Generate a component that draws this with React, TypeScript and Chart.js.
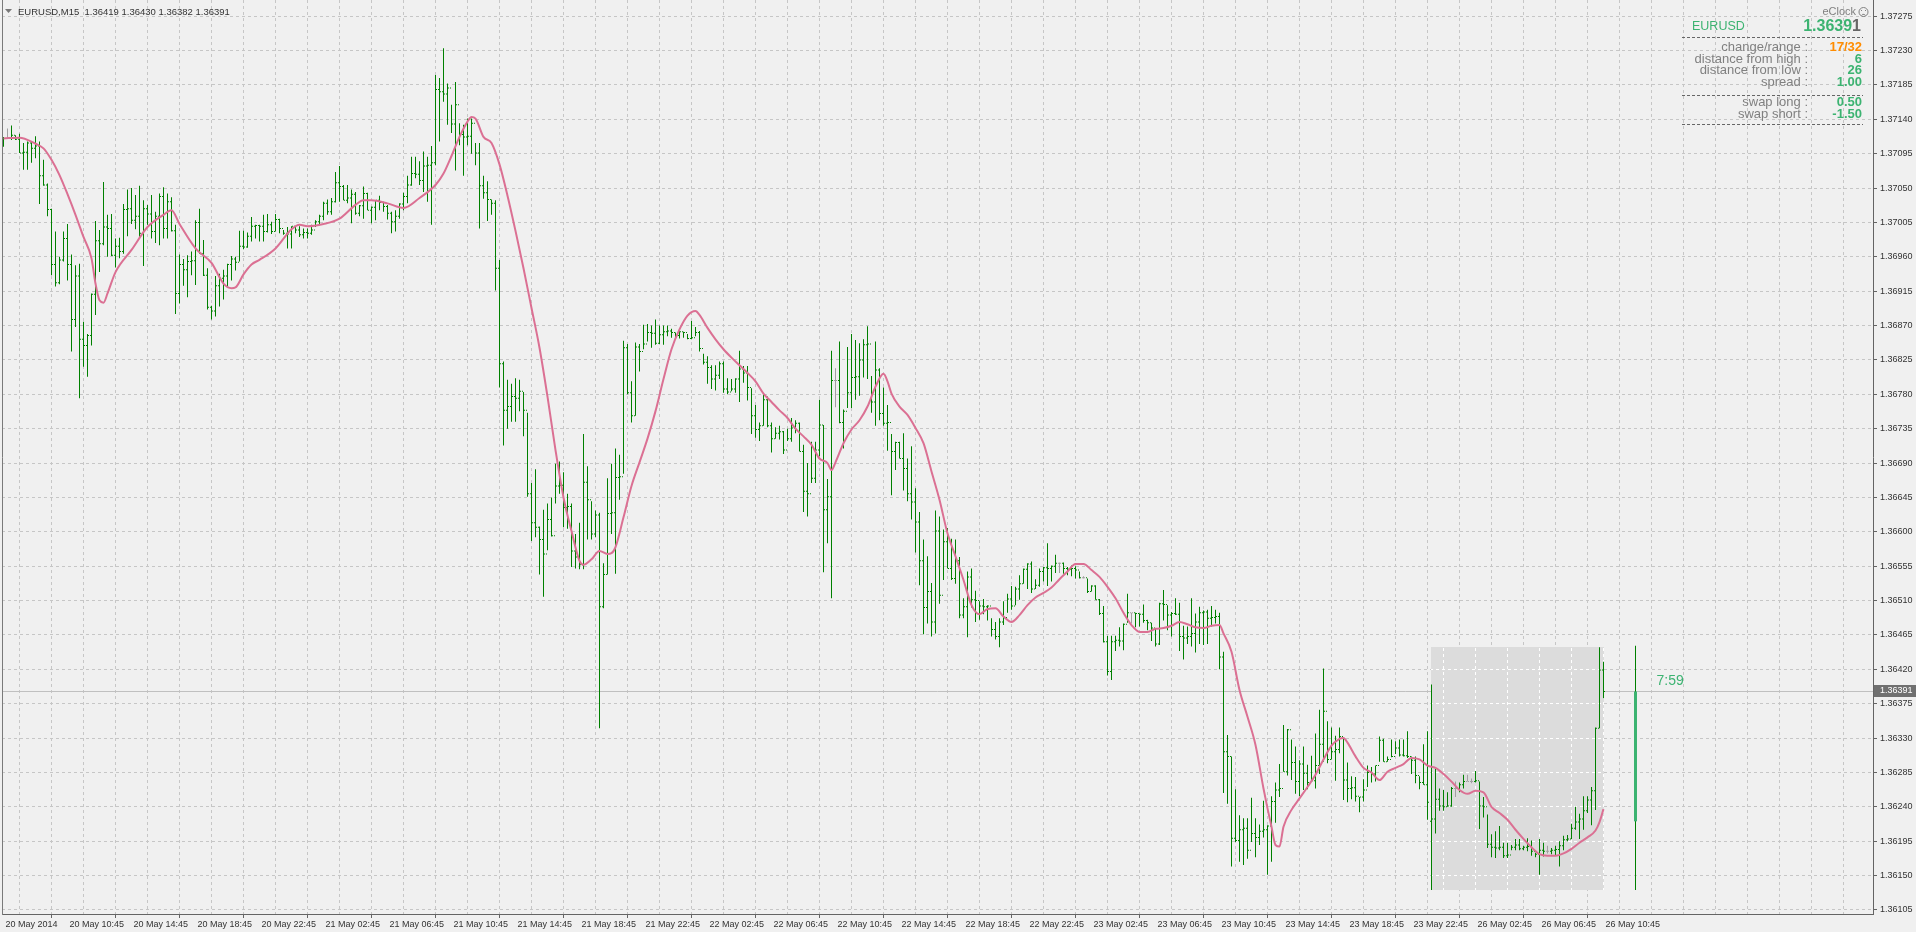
import React, { useEffect, useRef } from 'react';
import { Chart, registerables } from 'chart.js';

Chart.register(...registerables);

// ---------------- data ----------------
const headerText = 'EURUSD,M15  1.36419 1.36430 1.36382 1.36391';

const timeLabels = [
  '20 May 2014', '20 May 10:45', '20 May 14:45', '20 May 18:45', '20 May 22:45',
  '21 May 02:45', '21 May 06:45', '21 May 10:45', '21 May 14:45', '21 May 18:45', '21 May 22:45',
  '22 May 02:45', '22 May 06:45', '22 May 10:45', '22 May 14:45', '22 May 18:45', '22 May 22:45',
  '23 May 02:45', '23 May 06:45', '23 May 10:45', '23 May 14:45', '23 May 18:45', '23 May 22:45',
  '26 May 02:45', '26 May 06:45', '26 May 10:45',
];

const priceTicks = [
  1.36105, 1.36150, 1.36195, 1.36240, 1.36285, 1.36330, 1.36375, 1.36420, 1.36465,
  1.36510, 1.36555, 1.36600, 1.36645, 1.36690, 1.36735, 1.36780, 1.36825, 1.36870,
  1.36915, 1.36960, 1.37005, 1.37050, 1.37095, 1.37140, 1.37185, 1.37230, 1.37275,
];

// M15 bars, index 0 = 20 May 06:45
const opens = [
  1.37110,1.37115,1.37115,1.37119,1.37114,1.37096,1.37097,1.37109,1.37102,1.37105,
  1.37066,1.37054,1.37022,1.36950,1.36926,1.36956,1.36984,1.36950,1.36878,1.36935,
  1.36852,1.36844,1.36857,1.36911,1.36981,1.36977,1.36999,1.36997,1.36962,1.36974,
  1.36967,1.37022,1.37023,1.37008,1.37013,1.36991,1.37023,1.37016,1.36993,1.37013,
  1.37039,1.36997,1.37032,1.36994,1.36912,1.36950,1.36943,1.36954,1.36955,1.37005,
  1.36964,1.36936,1.36894,1.36889,1.36922,1.36932,1.36935,1.36950,1.36957,1.36953,
  1.36974,1.36973,1.36987,1.37000,1.37001,1.37000,1.36993,1.37002,1.36993,1.37009,
  1.36997,1.36991,1.36990,1.37000,1.36995,1.36989,1.36992,1.36991,1.36995,1.37006,
  1.37013,1.37030,1.37019,1.37032,1.37057,1.37052,1.37034,1.37037,1.37042,1.37017,
  1.37027,1.37043,1.37021,1.37025,1.37034,1.37031,1.37026,1.37017,1.37006,1.37013,
  1.37029,1.37039,1.37054,1.37069,1.37068,1.37060,1.37079,1.37080,1.37083,1.37179,
  1.37176,1.37173,1.37181,1.37134,1.37159,1.37120,1.37117,1.37118,1.37135,1.37096,
  1.37053,1.37044,1.37035,1.37030,1.36945,1.36820,1.36759,1.36764,1.36777,1.36775,
  1.36784,1.36759,1.36650,1.36612,1.36606,1.36590,1.36571,1.36616,1.36595,1.36660,
  1.36661,1.36632,1.36633,1.36575,1.36567,1.36557,1.36665,1.36642,1.36597,1.36622,
  1.36502,1.36544,1.36624,1.36625,1.36671,1.36672,1.36841,1.36782,1.36752,1.36842,
  1.36836,1.36846,1.36861,1.36860,1.36847,1.36858,1.36862,1.36863,1.36861,1.36857,
  1.36862,1.36861,1.36853,1.36854,1.36861,1.36840,1.36822,1.36815,1.36800,1.36805,
  1.36820,1.36787,1.36783,1.36787,1.36800,1.36813,1.36808,1.36789,1.36752,1.36734,
  1.36739,1.36773,1.36739,1.36722,1.36729,1.36731,1.36707,1.36722,1.36736,1.36742,
  1.36705,1.36653,1.36650,1.36670,1.36707,1.36740,1.36629,1.36646,1.36798,1.36798,
  1.36743,1.36758,1.36782,1.36802,1.36803,1.36825,1.36845,1.36846,1.36770,1.36812,
  1.36755,1.36742,1.36743,1.36705,1.36717,1.36696,1.36683,1.36650,1.36639,1.36613,
  1.36562,1.36501,1.36522,1.36482,1.36601,1.36517,1.36587,1.36552,1.36539,1.36562,
  1.36491,1.36502,1.36541,1.36511,1.36510,1.36503,1.36502,1.36503,1.36472,1.36463,
  1.36482,1.36488,1.36512,1.36503,1.36525,1.36532,1.36551,1.36558,1.36525,1.36530,
  1.36548,1.36553,1.36552,1.36555,1.36559,1.36559,1.36552,1.36551,1.36552,1.36550,
  1.36540,1.36540,1.36522,1.36529,1.36511,1.36493,1.36456,1.36417,1.36456,1.36458,
  1.36457,1.36479,1.36494,1.36494,1.36493,1.36492,1.36484,1.36481,1.36474,1.36453,
  1.36506,1.36505,1.36491,1.36493,1.36492,1.36463,1.36461,1.36463,1.36467,1.36482,
  1.36494,1.36495,1.36487,1.36488,1.36489,1.36436,1.36312,1.36306,1.36199,1.36196,
  1.36210,1.36212,1.36183,1.36205,1.36200,1.36208,1.36210,1.36215,1.36247,1.36262,
  1.36264,1.36286,1.36341,1.36298,1.36273,1.36296,1.36284,1.36272,1.36274,1.36294,
  1.36322,1.36365,1.36302,1.36312,1.36315,1.36332,1.36275,1.36264,1.36265,1.36254,
  1.36253,1.36262,1.36285,1.36283,1.36294,1.36327,1.36299,1.36302,1.36306,1.36317,
  1.36308,1.36307,1.36306,1.36301,1.36281,1.36272,1.36269,1.36221,1.36224,1.36250,
  1.36241,1.36240,1.36241,1.36264,1.36264,1.36269,1.36273,1.36273,1.36273,1.36274,
  1.36241,1.36240,1.36191,1.36187,1.36186,1.36187,1.36176,1.36177,1.36187,1.36190,
  1.36185,1.36187,1.36188,1.36182,1.36178,1.36183,1.36182,1.36182,1.36183,1.36184,
  1.36189,1.36197,1.36198,1.36212,1.36220,1.36224,1.36235,1.36249,1.36261,1.36343,
  1.36419,
];

const highs = [
  1.37117,1.37128,1.37132,1.37119,1.37121,1.37109,1.37111,1.37111,1.37118,1.37111,
  1.37087,1.37056,1.37023,1.36993,1.36960,1.36993,1.37003,1.36963,1.36949,1.36951,
  1.36875,1.36859,1.36912,1.37007,1.36995,1.37058,1.37015,1.37016,1.36984,1.36985,
  1.37029,1.37048,1.37050,1.37041,1.37053,1.37034,1.37028,1.37041,1.37019,1.37043,
  1.37051,1.37043,1.37038,1.37002,1.36963,1.36957,1.36962,1.36967,1.37008,1.37023,
  1.36982,1.36945,1.36896,1.36935,1.36938,1.36943,1.36951,1.36961,1.36960,1.36994,
  1.36994,1.36992,1.37012,1.37002,1.37002,1.37015,1.37016,1.37006,1.37016,1.37010,
  1.36995,1.36999,1.37000,1.37000,1.37000,1.36997,1.36997,1.37002,1.37008,1.37015,
  1.37032,1.37035,1.37037,1.37071,1.37079,1.37054,1.37054,1.37048,1.37045,1.37028,
  1.37052,1.37044,1.37026,1.37034,1.37040,1.37032,1.37028,1.37019,1.37021,1.37030,
  1.37044,1.37066,1.37091,1.37091,1.37085,1.37098,1.37091,1.37105,1.37198,1.37194,
  1.37233,1.37187,1.37159,1.37189,1.37135,1.37133,1.37141,1.37141,1.37109,1.37109,
  1.37066,1.37059,1.37035,1.37034,1.36956,1.36823,1.36799,1.36794,1.36801,1.36799,
  1.36783,1.36756,1.36664,1.36682,1.36607,1.36629,1.36637,1.36645,1.36689,1.36692,
  1.36678,1.36650,1.36637,1.36597,1.36612,1.36728,1.36686,1.36640,1.36628,1.36625,
  1.36559,1.36670,1.36689,1.36709,1.36701,1.36850,1.36846,1.36797,1.36848,1.36846,
  1.36871,1.36872,1.36870,1.36878,1.36870,1.36870,1.36870,1.36866,1.36861,1.36863,
  1.36862,1.36859,1.36876,1.36868,1.36863,1.36833,1.36830,1.36818,1.36818,1.36823,
  1.36823,1.36801,1.36800,1.36801,1.36837,1.36817,1.36817,1.36788,1.36766,1.36743,
  1.36780,1.36777,1.36743,1.36737,1.36739,1.36732,1.36735,1.36749,1.36746,1.36743,
  1.36714,1.36690,1.36718,1.36718,1.36773,1.36740,1.36669,1.36837,1.36814,1.36849,
  1.36760,1.36842,1.36859,1.36851,1.36847,1.36852,1.36869,1.36804,1.36849,1.36814,
  1.36789,1.36766,1.36728,1.36718,1.36718,1.36729,1.36696,1.36712,1.36657,1.36626,
  1.36590,1.36568,1.36533,1.36628,1.36620,1.36603,1.36605,1.36591,1.36590,1.36567,
  1.36513,1.36548,1.36552,1.36523,1.36509,1.36512,1.36504,1.36487,1.36482,1.36487,
  1.36509,1.36519,1.36529,1.36528,1.36543,1.36552,1.36559,1.36561,1.36538,1.36552,
  1.36554,1.36585,1.36556,1.36570,1.36560,1.36560,1.36554,1.36556,1.36555,1.36548,
  1.36542,1.36539,1.36530,1.36530,1.36512,1.36503,1.36464,1.36464,1.36464,1.36475,
  1.36480,1.36519,1.36494,1.36494,1.36493,1.36505,1.36485,1.36481,1.36474,1.36507,
  1.36524,1.36504,1.36495,1.36513,1.36507,1.36477,1.36476,1.36513,1.36493,1.36502,
  1.36497,1.36498,1.36503,1.36498,1.36494,1.36443,1.36334,1.36306,1.36263,1.36229,
  1.36225,1.36225,1.36252,1.36225,1.36217,1.36248,1.36216,1.36254,1.36272,1.36296,
  1.36347,1.36342,1.36328,1.36319,1.36301,1.36319,1.36295,1.36307,1.36336,1.36367,
  1.36421,1.36352,1.36344,1.36333,1.36344,1.36330,1.36298,1.36280,1.36279,1.36253,
  1.36276,1.36294,1.36292,1.36294,1.36332,1.36329,1.36306,1.36328,1.36326,1.36328,
  1.36328,1.36339,1.36306,1.36306,1.36280,1.36322,1.36339,1.36400,1.36290,1.36264,
  1.36262,1.36259,1.36266,1.36273,1.36272,1.36282,1.36282,1.36277,1.36287,1.36273,
  1.36253,1.36230,1.36204,1.36208,1.36215,1.36193,1.36193,1.36190,1.36198,1.36198,
  1.36189,1.36199,1.36196,1.36180,1.36198,1.36193,1.36189,1.36186,1.36189,1.36195,
  1.36202,1.36203,1.36218,1.36240,1.36231,1.36254,1.36254,1.36266,1.36344,1.36449,
  1.36430,
];

const lows = [
  1.37104,1.37115,1.37113,1.37113,1.37096,1.37074,1.37074,1.37083,1.37089,1.37029,
  1.37053,1.37013,1.36936,1.36921,1.36924,1.36954,1.36929,1.36836,1.36868,1.36775,
  1.36816,1.36803,1.36844,1.36884,1.36940,1.36975,1.36960,1.36961,1.36946,1.36958,
  1.36964,1.36987,1.37003,1.36996,1.36984,1.36948,1.37002,1.36984,1.36978,1.36975,
  1.36984,1.36984,1.36993,1.36885,1.36899,1.36922,1.36907,1.36936,1.36923,1.36964,
  1.36935,1.36891,1.36878,1.36882,1.36895,1.36904,1.36921,1.36929,1.36942,1.36954,
  1.36970,1.36972,1.36980,1.36984,1.36980,1.36980,1.36992,1.36990,1.36993,1.36991,
  1.36989,1.36971,1.36971,1.36991,1.36986,1.36984,1.36984,1.36989,1.36999,1.37002,
  1.37008,1.37015,1.37015,1.37031,1.37032,1.37034,1.37030,1.37004,1.37015,1.37013,
  1.37010,1.37021,1.37004,1.37008,1.37021,1.37019,1.37009,1.36991,1.36993,1.37010,
  1.37021,1.37030,1.37053,1.37063,1.37054,1.37045,1.37032,1.37002,1.37080,1.37111,
  1.37163,1.37133,1.37122,1.37073,1.37106,1.37066,1.37106,1.37095,1.37080,1.36997,
  1.37036,1.37007,1.37015,1.36916,1.36789,1.36713,1.36735,1.36744,1.36744,1.36758,
  1.36725,1.36646,1.36588,1.36593,1.36544,1.36515,1.36576,1.36594,1.36637,1.36650,
  1.36606,1.36604,1.36554,1.36552,1.36551,1.36551,1.36590,1.36590,1.36593,1.36343,
  1.36500,1.36544,1.36597,1.36545,1.36642,1.36676,1.36780,1.36743,1.36752,1.36810,
  1.36839,1.36849,1.36841,1.36845,1.36846,1.36845,1.36856,1.36854,1.36852,1.36853,
  1.36854,1.36852,1.36852,1.36856,1.36836,1.36819,1.36794,1.36787,1.36785,1.36800,
  1.36782,1.36780,1.36784,1.36782,1.36770,1.36795,1.36772,1.36728,1.36723,1.36719,
  1.36739,1.36737,1.36704,1.36722,1.36721,1.36702,1.36719,1.36718,1.36729,1.36705,
  1.36626,1.36620,1.36664,1.36664,1.36699,1.36547,1.36585,1.36513,1.36763,1.36742,
  1.36709,1.36762,1.36762,1.36773,1.36778,1.36802,1.36800,1.36756,1.36739,1.36746,
  1.36739,1.36706,1.36648,1.36681,1.36696,1.36654,1.36640,1.36616,1.36573,1.36530,
  1.36466,1.36480,1.36463,1.36467,1.36506,1.36537,1.36552,1.36537,1.36532,1.36487,
  1.36487,1.36462,1.36501,1.36482,1.36485,1.36492,1.36484,1.36463,1.36459,1.36449,
  1.36478,1.36494,1.36498,1.36504,1.36511,1.36532,1.36525,1.36520,1.36525,1.36528,
  1.36535,1.36529,1.36535,1.36546,1.36546,1.36545,1.36543,1.36542,1.36539,1.36539,
  1.36539,1.36520,1.36522,1.36511,1.36491,1.36455,1.36412,1.36406,1.36444,1.36450,
  1.36445,1.36481,1.36480,1.36475,1.36476,1.36481,1.36471,1.36457,1.36450,1.36452,
  1.36484,1.36471,1.36463,1.36491,1.36444,1.36433,1.36453,1.36450,1.36442,1.36453,
  1.36452,1.36453,1.36476,1.36480,1.36420,1.36258,1.36244,1.36162,1.36194,1.36168,
  1.36164,1.36172,1.36194,1.36174,1.36190,1.36200,1.36151,1.36168,1.36219,1.36253,
  1.36286,1.36281,1.36275,1.36257,1.36254,1.36262,1.36263,1.36273,1.36264,1.36283,
  1.36299,1.36297,1.36302,1.36274,1.36310,1.36249,1.36246,1.36250,1.36247,1.36233,
  1.36247,1.36266,1.36272,1.36273,1.36299,1.36299,1.36299,1.36305,1.36309,1.36306,
  1.36306,1.36304,1.36283,1.36271,1.36263,1.36269,1.36223,1.36131,1.36205,1.36235,
  1.36235,1.36240,1.36240,1.36253,1.36259,1.36264,1.36273,1.36271,1.36272,1.36211,
  1.36226,1.36186,1.36174,1.36173,1.36183,1.36173,1.36173,1.36183,1.36183,1.36183,
  1.36183,1.36182,1.36176,1.36174,1.36151,1.36175,1.36179,1.36178,1.36177,1.36162,
  1.36183,1.36195,1.36198,1.36210,1.36198,1.36210,1.36232,1.36216,1.36236,1.36343,
  1.36382,
];

const closes = [
  1.37115,1.37115,1.37119,1.37114,1.37096,1.37097,1.37109,1.37102,1.37105,1.37066,
  1.37054,1.37022,1.36950,1.36926,1.36956,1.36984,1.36950,1.36878,1.36935,1.36852,
  1.36844,1.36857,1.36911,1.36981,1.36977,1.36999,1.36997,1.36962,1.36974,1.36967,
  1.37022,1.37023,1.37008,1.37013,1.36991,1.37023,1.37016,1.36993,1.37013,1.37039,
  1.36997,1.37032,1.36994,1.36912,1.36950,1.36943,1.36954,1.36955,1.37005,1.36964,
  1.36936,1.36894,1.36889,1.36922,1.36932,1.36935,1.36950,1.36957,1.36953,1.36974,
  1.36973,1.36987,1.37000,1.37001,1.37000,1.36993,1.37002,1.36993,1.37009,1.36997,
  1.36991,1.36990,1.37000,1.36995,1.36989,1.36992,1.36991,1.36995,1.37006,1.37013,
  1.37030,1.37019,1.37032,1.37057,1.37052,1.37034,1.37037,1.37042,1.37017,1.37027,
  1.37043,1.37021,1.37025,1.37034,1.37031,1.37026,1.37017,1.37006,1.37013,1.37029,
  1.37039,1.37054,1.37069,1.37068,1.37060,1.37079,1.37080,1.37083,1.37179,1.37176,
  1.37173,1.37181,1.37134,1.37159,1.37120,1.37117,1.37118,1.37135,1.37096,1.37053,
  1.37044,1.37035,1.37030,1.36945,1.36820,1.36759,1.36764,1.36777,1.36775,1.36784,
  1.36759,1.36650,1.36612,1.36606,1.36590,1.36571,1.36616,1.36595,1.36660,1.36661,
  1.36632,1.36633,1.36575,1.36567,1.36557,1.36665,1.36642,1.36597,1.36622,1.36502,
  1.36544,1.36624,1.36625,1.36671,1.36672,1.36841,1.36782,1.36752,1.36842,1.36836,
  1.36846,1.36861,1.36860,1.36847,1.36858,1.36862,1.36863,1.36861,1.36857,1.36862,
  1.36861,1.36853,1.36854,1.36861,1.36840,1.36822,1.36815,1.36800,1.36805,1.36820,
  1.36787,1.36783,1.36787,1.36800,1.36813,1.36808,1.36789,1.36752,1.36734,1.36739,
  1.36773,1.36739,1.36722,1.36729,1.36731,1.36707,1.36722,1.36736,1.36742,1.36705,
  1.36653,1.36650,1.36670,1.36707,1.36740,1.36629,1.36646,1.36798,1.36798,1.36743,
  1.36758,1.36782,1.36802,1.36803,1.36825,1.36845,1.36846,1.36770,1.36812,1.36755,
  1.36742,1.36743,1.36705,1.36717,1.36696,1.36683,1.36650,1.36639,1.36613,1.36562,
  1.36501,1.36522,1.36482,1.36601,1.36517,1.36587,1.36552,1.36539,1.36562,1.36491,
  1.36502,1.36541,1.36511,1.36510,1.36503,1.36502,1.36503,1.36472,1.36463,1.36482,
  1.36488,1.36512,1.36503,1.36525,1.36532,1.36551,1.36558,1.36525,1.36530,1.36548,
  1.36553,1.36552,1.36555,1.36559,1.36559,1.36552,1.36551,1.36552,1.36550,1.36540,
  1.36540,1.36522,1.36529,1.36511,1.36493,1.36456,1.36417,1.36456,1.36458,1.36457,
  1.36479,1.36494,1.36494,1.36493,1.36492,1.36484,1.36481,1.36474,1.36453,1.36506,
  1.36505,1.36491,1.36493,1.36492,1.36463,1.36461,1.36463,1.36467,1.36482,1.36494,
  1.36495,1.36487,1.36488,1.36489,1.36436,1.36312,1.36306,1.36199,1.36196,1.36210,
  1.36212,1.36183,1.36205,1.36200,1.36208,1.36210,1.36215,1.36247,1.36262,1.36264,
  1.36286,1.36341,1.36298,1.36273,1.36296,1.36284,1.36272,1.36274,1.36294,1.36322,
  1.36365,1.36302,1.36312,1.36315,1.36332,1.36275,1.36264,1.36265,1.36254,1.36253,
  1.36262,1.36285,1.36283,1.36294,1.36327,1.36299,1.36302,1.36306,1.36317,1.36308,
  1.36307,1.36306,1.36301,1.36281,1.36272,1.36269,1.36246,1.36224,1.36250,1.36241,
  1.36240,1.36241,1.36264,1.36264,1.36269,1.36273,1.36273,1.36273,1.36274,1.36241,
  1.36240,1.36191,1.36187,1.36186,1.36187,1.36176,1.36177,1.36187,1.36190,1.36185,
  1.36187,1.36188,1.36182,1.36178,1.36183,1.36182,1.36182,1.36183,1.36184,1.36189,
  1.36197,1.36198,1.36212,1.36220,1.36224,1.36235,1.36249,1.36261,1.36343,1.36419,
  1.36391,
];

// moving average (pink line), read at these bar indexes
const maBars = [
  0,4,8,10,12,14,16,18,20,22,23,24,25,26,28,32,36,40,42,44,48,52,55,57,58,60,62,64,68,72,74,76,80,84,88,90,92,96,
  100,104,108,110,112,114,116,117,118,120,122,124,126,128,130,132,134,136,138,140,142,144,145,147,149,151,152,153,
  155,157,159,161,163,165,167,169,171,173,174,176,178,180,182,184,186,188,190,192,194,196,198,200,202,204,206,207,
  208,210,212,214,216,218,220,221,222,224,226,228,230,232,234,236,238,240,242,244,246,248,250,252,254,256,258,260,
  262,264,266,268,270,272,274,276,278,280,282,284,286,288,290,292,294,296,298,300,302,304,305,307,309,311,313,315,
  316,317,318,319,320,322,324,326,328,330,332,334,335,336,338,340,342,344,346,348,350,352,354,356,358,360,362,364,
  366,368,370,372,374,376,378,380,382,384,386,388,390,392,394,396,398,399,400,
];
const maValues = [
  1.37115,1.37116,1.37108,1.37102,1.37087,1.37067,1.37042,1.37015,1.36986,1.36958,1.36925,1.36903,1.36900,1.36912,
  1.36940,1.36969,1.36999,1.37015,1.37021,1.37003,1.36971,1.36952,1.36925,1.36919,1.36920,1.36937,1.36950,1.36956,
  1.36971,1.36996,1.37002,1.37000,1.37003,1.37010,1.37028,1.37034,1.37034,1.37030,
  1.37024,1.37037,1.37054,1.37069,1.37092,1.37117,1.37137,1.37143,1.37141,1.37117,1.37109,1.37081,1.37040,1.36994,
  1.36945,1.36893,1.36841,1.36777,1.36707,1.36645,1.36601,1.36562,1.36557,1.36564,1.36575,1.36571,1.36572,1.36580,
  1.36619,1.36660,1.36691,1.36722,1.36758,1.36800,1.36839,1.36865,1.36883,1.36889,1.36884,1.36867,1.36852,1.36839,
  1.36828,1.36818,1.36808,1.36797,1.36781,1.36770,1.36759,1.36749,1.36735,1.36725,1.36714,1.36696,1.36690,1.36681,
  1.36691,1.36716,1.36734,1.36746,1.36764,1.36790,1.36807,1.36797,1.36781,1.36764,1.36753,1.36736,1.36716,1.36679,
  1.36642,1.36598,1.36568,1.36537,1.36504,1.36492,1.36499,1.36500,1.36489,1.36482,1.36491,1.36504,1.36514,1.36520,
  1.36527,1.36538,1.36548,1.36558,1.36558,1.36550,1.36541,1.36528,1.36513,1.36494,1.36478,1.36469,1.36469,1.36473,
  1.36474,1.36477,1.36482,1.36479,1.36475,1.36474,1.36477,1.36478,1.36467,1.36443,1.36393,1.36358,1.36321,1.36264,
  1.36238,1.36214,1.36190,1.36188,1.36214,1.36236,1.36251,1.36266,1.36282,1.36302,1.36320,1.36329,1.36330,1.36324,
  1.36306,1.36291,1.36285,1.36275,1.36286,1.36291,1.36296,1.36304,1.36302,1.36294,1.36291,1.36283,1.36273,1.36262,
  1.36257,1.36261,1.36259,1.36240,1.36232,1.36223,1.36210,1.36198,1.36187,1.36178,1.36176,1.36176,1.36179,1.36185,
  1.36193,1.36200,1.36209,1.36220,1.36237,
];

// today's (26 May) daily candle: open, high, low, close
const dayOHLC = [1.36221, 1.36451, 1.36131, 1.36391];
const dayFirstBar = 357;
const dayCandleGapBars = 8;
const lastPrice = 1.36391;
const countdownText = '7:59';

const panelSymbol = 'EURUSD';
const panelPriceHead = '1.3639';
const panelPriceTail = '1';
const panelLabels = ['change/range :', 'distance from high :', 'distance from low :', 'spread :', 'swap long :', 'swap short :'];
const panelValues = ['17/32', '6', '26', '1.00', '0.50', '-1.50'];

// ---------------- layout / style ----------------
const W = 1916;
const H = 932;
const PLOT_LEFT = 2;
const AXIS_W = 43;
const AXIS_H = 18;
const PLOT_H = H - AXIS_H;
const X_MIN = -0.375;
const X_MAX = X_MIN + (W - AXIS_W - PLOT_LEFT) / 4;
const Y_MIN = 1.360997;
const Y_MAX = 1.372962;

const FONT = "'Liberation Sans', Arial, sans-serif";
const BG = '#f0f0f0';
const GRID = '#c6c6c6';
const BAR = '#008000';
const DOJI = '#a0a0a0';
const MA = '#db7093';
const BOX = '#dcdcdc';
const AXIS = '#646464';
const TXT = '#333333';
const GREEN = '#3cb371';
const ORANGE = '#ff8c00';
const GREYTXT = '#808080';

const alignPx = (p: number) => Math.round(p - 0.5) + 0.5;

const mt4Plugin: any = {
  id: 'mt4Decor',
  beforeDraw(chart: any) {
    const { ctx } = chart;
    ctx.save();
    ctx.fillStyle = BG;
    ctx.fillRect(0, 0, chart.width, chart.height);
    ctx.restore();
  },
  beforeDatasetsDraw(chart: any) {
    const { ctx, chartArea: a } = chart;
    const xs = chart.scales.x;
    const ys = chart.scales.y;
    ctx.save();
    ctx.beginPath();
    ctx.rect(a.left, a.top, a.right - a.left, a.bottom - a.top);
    ctx.clip();
    // bid line
    const py = alignPx(ys.getPixelForValue(lastPrice));
    ctx.strokeStyle = '#c0c0c0';
    ctx.lineWidth = 1;
    ctx.beginPath();
    ctx.moveTo(a.left, py);
    ctx.lineTo(a.right, py);
    ctx.stroke();
    // today's range box
    let hi = -Infinity;
    let lo = Infinity;
    for (let i = dayFirstBar; i < highs.length; i++) {
      if (highs[i] > hi) hi = highs[i];
      if (lows[i] < lo) lo = lows[i];
    }
    const bx0 = Math.round(xs.getPixelForValue(dayFirstBar) - 0.5);
    const bx1 = Math.round(xs.getPixelForValue(highs.length - 1) + 0.5);
    const by0 = Math.round(ys.getPixelForValue(hi));
    const by1 = Math.round(ys.getPixelForValue(lo));
    ctx.fillStyle = BOX;
    ctx.fillRect(bx0, by0, bx1 - bx0, by1 - by0);
    ctx.beginPath();
    ctx.rect(bx0, by0, bx1 - bx0, by1 - by0);
    ctx.clip();
    ctx.strokeStyle = '#ffffff';
    ctx.setLineDash([3, 3]);
    for (const t of ys.ticks) {
      const yy = alignPx(ys.getPixelForValue(t.value));
      ctx.beginPath();
      ctx.moveTo(a.left, yy);
      ctx.lineTo(a.right, yy);
      ctx.stroke();
    }
    for (const t of xs.ticks) {
      const xx = alignPx(xs.getPixelForValue(t.value));
      ctx.beginPath();
      ctx.moveTo(xx, a.top);
      ctx.lineTo(xx, a.bottom);
      ctx.stroke();
    }
    ctx.restore();
  },
  afterDraw(chart: any) {
    const { ctx, chartArea: a } = chart;
    const ys = chart.scales.y;
    const xs = chart.scales.x;
    ctx.save();
    // left frame
    ctx.strokeStyle = '#7a7a7a';
    ctx.lineWidth = 1;
    ctx.beginPath();
    ctx.moveTo(a.left + 0.5, 0);
    ctx.lineTo(a.left + 0.5, a.bottom + 1);
    ctx.stroke();

    // header
    ctx.fillStyle = '#777';
    ctx.beginPath();
    ctx.moveTo(5, 9);
    ctx.lineTo(12, 9);
    ctx.lineTo(8.5, 13);
    ctx.closePath();
    ctx.fill();
    ctx.font = `9.5px ${FONT}`;
    ctx.fillStyle = TXT;
    ctx.textBaseline = 'middle';
    ctx.textAlign = 'left';
    ctx.fillText(headerText, 18, 12);

    // current price label on the axis
    const py = Math.round(ys.getPixelForValue(lastPrice));
    ctx.fillStyle = '#707070';
    ctx.fillRect(a.right + 1, py - 6, W - a.right - 1, 12);
    ctx.fillStyle = '#ffffff';
    ctx.font = `9px ${FONT}`;
    ctx.fillText(lastPrice.toFixed(5), a.right + 7, py);

    // countdown next to the daily candle
    const cx = xs.getPixelForValue(highs.length - 1 + dayCandleGapBars);
    ctx.font = `14px ${FONT}`;
    ctx.fillStyle = GREEN;
    ctx.fillText(countdownText, cx + 21, py - 10);

    // info panel
    ctx.textAlign = 'right';
    ctx.font = `11px ${FONT}`;
    ctx.fillStyle = GREYTXT;
    ctx.fillText('eClock', 1856, 12);
    ctx.strokeStyle = GREYTXT;
    ctx.lineWidth = 1;
    ctx.beginPath();
    ctx.arc(1863.5, 12, 4.5, 0, Math.PI * 2);
    ctx.stroke();
    ctx.fillRect(1861, 10, 1, 1);
    ctx.fillRect(1865, 10, 1, 1);
    ctx.beginPath();
    ctx.arc(1863.5, 16.5, 2.2, Math.PI * 1.15, Math.PI * 1.85);
    ctx.stroke();

    ctx.textAlign = 'left';
    ctx.font = `12.5px ${FONT}`;
    ctx.fillStyle = GREEN;
    ctx.fillText(panelSymbol, 1692, 27);

    ctx.textAlign = 'right';
    ctx.font = `bold 16px ${FONT}`;
    const tailW = ctx.measureText(panelPriceTail).width;
    ctx.fillStyle = '#666';
    ctx.fillText(panelPriceTail, 1861, 27);
    ctx.fillStyle = GREEN;
    ctx.fillText(panelPriceHead, 1861 - tailW, 27);

    ctx.strokeStyle = '#666';
    ctx.setLineDash([3, 2]);
    for (const ly of [37.5, 95.5, 124.5]) {
      ctx.beginPath();
      ctx.moveTo(1682, ly);
      ctx.lineTo(1863, ly);
      ctx.stroke();
    }
    ctx.setLineDash([]);

    const rowY = [47.5, 59, 70.5, 82, 102, 114];
    panelLabels.forEach((lab, k) => {
      ctx.font = `13px ${FONT}`;
      ctx.fillStyle = GREYTXT;
      ctx.fillText(lab, 1808, rowY[k]);
      ctx.font = `bold 13px ${FONT}`;
      ctx.fillStyle = k === 0 ? ORANGE : GREEN;
      ctx.fillText(panelValues[k], 1862, rowY[k]);
    });
    ctx.restore();
  },
};

export default function App() {
  const ref = useRef<HTMLCanvasElement | null>(null);

  useEffect(() => {
    const canvas = ref.current;
    if (!canvas) return;
    const halfTick = (Y_MAX - Y_MIN) / PLOT_H / 2;
    const barColors = closes.map((c, i) => (c === opens[i] ? DOJI : BAR));
    const candleX = highs.length - 1 + dayCandleGapBars;
    const barCommon = {
      type: 'bar',
      barThickness: 1,
      grouped: false,
      borderWidth: 0,
      inflateAmount: 0,
      borderSkipped: false,
    };

    const chart = new Chart(canvas, {
      type: 'bar',
      data: {
        datasets: [
          {
            type: 'line',
            label: 'MA',
            data: maBars.map((b, k) => ({ x: b, y: maValues[k] })),
            borderColor: MA,
            borderWidth: 2,
            pointRadius: 0,
            cubicInterpolationMode: 'monotone',
            order: 0,
          },
          {
            ...barCommon,
            label: 'High-Low',
            data: highs.map((h, i) => ({ x: i, y: [lows[i], h] })),
            backgroundColor: barColors,
            order: 3,
          },
          {
            ...barCommon,
            label: 'Open',
            data: opens.map((o, i) => ({ x: i - 0.25, y: [o - halfTick, o + halfTick] })),
            backgroundColor: barColors,
            order: 2,
          },
          {
            ...barCommon,
            label: 'Close',
            data: closes.map((c, i) => ({ x: i + 0.25, y: [c - halfTick, c + halfTick] })),
            backgroundColor: barColors,
            order: 2,
          },
          {
            ...barCommon,
            label: 'Day range',
            data: [{ x: candleX, y: [dayOHLC[2], dayOHLC[1]] }],
            backgroundColor: BAR,
            order: 2,
          },
          {
            ...barCommon,
            label: 'Day body',
            barThickness: 3,
            data: [{ x: candleX, y: [dayOHLC[0], dayOHLC[3]] }],
            backgroundColor: GREEN,
            order: 1,
          },
        ] as any,
      },
      options: {
        animation: false,
        responsive: false,
        maintainAspectRatio: false,
        devicePixelRatio: 1,
        events: [],
        layout: { padding: { left: PLOT_LEFT, right: 0, top: 0, bottom: 0 } },
        plugins: { legend: { display: false }, tooltip: { enabled: false }, title: { display: false } },
        scales: {
          x: {
            type: 'linear',
            min: X_MIN,
            max: X_MAX,
            offset: false,
            afterBuildTicks: (s: any) => {
              const t = [];
              for (let v = 0; v <= X_MAX; v += 8) t.push({ value: v });
              s.ticks = t;
            },
            afterFit: (s: any) => {
              s.height = AXIS_H;
              s.paddingLeft = 0;
              s.paddingRight = 0;
            },
            ticks: {
              autoSkip: false,
              maxRotation: 0,
              minRotation: 0,
              align: 'start',
              labelOffset: 2,
              padding: 1,
              color: TXT,
              font: { family: FONT, size: 9 },
              callback: (v: any) => {
                const n = Number(v);
                return n % 16 === 0 && n / 16 < timeLabels.length ? timeLabels[n / 16] : '';
              },
            },
            grid: {
              color: GRID,
              lineWidth: 1,
              drawTicks: true,
              tickLength: 4,
              tickColor: (c: any) =>
                c.tick && c.tick.value % 16 === 0 && c.tick.value / 16 < timeLabels.length ? AXIS : 'rgba(0,0,0,0)',
            },
            border: { color: AXIS, width: 1, dash: [3, 3] },
          },
          y: {
            type: 'linear',
            position: 'right',
            min: Y_MIN,
            max: Y_MAX,
            afterBuildTicks: (s: any) => {
              s.ticks = priceTicks.map((v) => ({ value: v }));
            },
            afterFit: (s: any) => {
              s.width = AXIS_W;
              s.paddingTop = 0;
              s.paddingBottom = 0;
            },
            ticks: {
              autoSkip: false,
              padding: 3,
              color: TXT,
              font: { family: FONT, size: 9 },
              callback: (v: any) => Number(v).toFixed(5),
            },
            grid: {
              color: GRID,
              lineWidth: 1,
              drawTicks: true,
              tickLength: 4,
              tickColor: AXIS,
            },
            border: { color: AXIS, width: 1, dash: [3, 3] },
          },
        },
      } as any,
      plugins: [mt4Plugin],
    } as any);

    return () => chart.destroy();
  }, []);

  return (
    <div style={{ position: 'fixed', left: 0, top: 0, width: W, height: H, background: BG }}>
      <canvas ref={ref} width={W} height={H} style={{ display: 'block', width: W, height: H }} />
    </div>
  );
}
